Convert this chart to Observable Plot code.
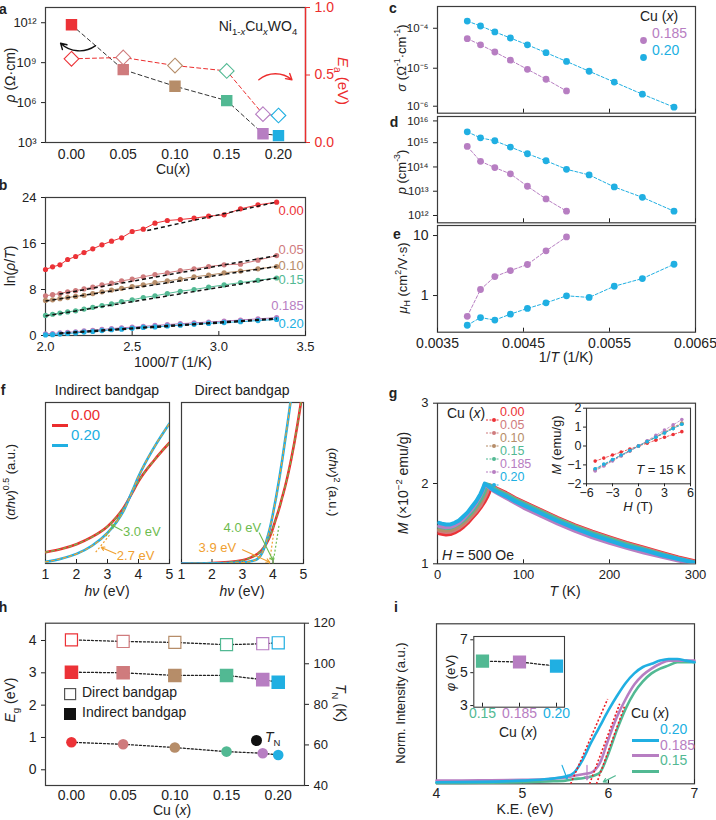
<!DOCTYPE html>
<html><head><meta charset="utf-8">
<script src="https://cdn.jsdelivr.net/npm/d3@7"></script>
<script src="https://cdn.jsdelivr.net/npm/@observablehq/plot@0.6"></script>
<style>
html,body{margin:0;padding:0;background:#fff;}
#chart{position:relative;width:716px;height:820px;overflow:hidden;font-family:"Liberation Sans",Arial,Helvetica,sans-serif;color:#222;}
#chart sub,#chart sup{font-size:68%;line-height:0;}
.lbl{position:absolute;white-space:nowrap;line-height:1;}
</style></head><body><div id="chart"></div><script>
// ================= DATA =================
const cuLabels = ["0.00","0.05","0.10","0.15","0.185","0.20"];
const cuValues = [0, 0.05, 0.10, 0.15, 0.185, 0.20];
const cuColors = ["#ec3237","#cf7b7d","#b68d69","#52b993","#b77ec2","#20afe2"];
const RED = "#ec2d2d";

// (a) resistivity and activation energy
const aRho = [7e11, 3e8, 1.7e7, 1.4e6, 4.6e3, 3.3e3];
const aEa = [0.62, 0.63, 0.57, 0.53, 0.21, 0.20];
const aXDomain = [-0.0251, 0.2261];
const aXTicks = [0, 0.05, 0.10, 0.15, 0.20];
const aRhoTicks = [1e3, 1e6, 1e9, 1e12];
const aEaTicks = [0, 0.5, 1.0];
const aArrowRho = [{x1: 0.0233, y1: 1.9e10, x2: -0.0105, y2: 2.9e10}];
const aArrowEa = [{x1: 0.181, y1: 0.465, x2: 0.213, y2: 0.465}];

// (b) ln(rho/T) vs 1000/T
const bT = [500,490,480,470,460,450,440,430,420,410,400,390,380,370,360,350,340,330,320,310,300];
const bLn000 = [11.48,11.94,12.29,13.22,13.74,14.43,15.07,15.77,16.40,16.99,18.09,18.49,19.54,20.00,20.17,20.41,20.75,20.99,22.03,22.72,23.19];
const bLn005 = [6.9,7.1,7.3,7.6,7.8,8.1,8.4,8.8,9.1,9.5,9.8,10.2,10.6,10.9,11.3,11.6,12.0,12.3,12.4,13.1,13.9];
const bLn010 = [6.1,6.2,6.4,6.6,6.8,7.0,7.3,7.6,7.9,8.2,8.5,8.8,9.2,9.5,9.8,10.2,10.5,10.9,11.2,11.6,12.0];
const bLn015 = [3.5,3.7,3.9,4.1,4.3,4.6,4.9,5.2,5.5,5.9,6.2,6.6,6.9,7.3,7.7,8.0,8.4,8.8,9.2,9.6,10.0];
const bLn0185 = [0.3,0.35,0.45,0.55,0.65,0.8,0.9,1.05,1.2,1.35,1.45,1.6,1.75,1.9,2.05,2.2,2.35,2.5,2.7,2.9,3.1];
const bLn020 = [0.1,0.15,0.25,0.35,0.45,0.6,0.7,0.85,1.0,1.1,1.25,1.4,1.5,1.65,1.8,1.95,2.1,2.25,2.4,2.6,2.8];
const bFitX1 = [2.587, 2.08, 2.0, 2.0, 2.08, 2.08];
const bFitY1 = [18.26, 7.2, 6.0, 3.4, 0.45, 0.3];
const bFitX2 = [3.333, 3.333, 3.333, 3.333, 3.333, 3.333];
const bFitY2 = [23.2, 13.9, 12.0, 10.0, 3.0, 2.85];
const bLabelY = [21.7, 14.9, 12.2, 9.7, 5.2, 2.0];
const bXTicks = [2.0, 2.5, 3.0, 3.5];
const bYTicks = [0, 8, 16, 24];

// (c,d,e) Hall data vs 1/T
const hallT = [260,250,240,230,220,210,200,190,180,170,160];
const sigma020 = [1.51e-4,1.14e-4,8.1e-5,5.7e-5,3.85e-5,2.45e-5,1.48e-5,8.4e-6,4.5e-6,2.24e-6,1.06e-6];
const sigma0185 = [5.5e-5,3.85e-5,2.55e-5,1.59e-5,9.4e-6,5.3e-6,2.7e-6];
const p020 = [2.8e15,1.58e15,1.2e15,6.6e14,3.5e14,1.8e14,8e13,4.7e13,1.5e13,5.6e12,1.5e12];
const p0185 = [7e14,1.7e14,9.4e13,5.2e13,1.6e13,4.8e12,1.5e12];
const mu020 = [0.32,0.43,0.39,0.49,0.61,0.755,0.99,0.93,1.43,1.92,3.32];
const mu0185 = [0.45,1.26,2.07,2.61,3.29,5.56,9.5];
const cdeXTicks = [0.0035, 0.0045, 0.0055, 0.0065];

// (f) Tauc plots
const fIndHv = [1.0,1.5,2.0,2.5,3.0,3.3,3.5,3.8,4.0,4.5,5.0];
const fIndRed = [0.07,0.09,0.12,0.165,0.23,0.29,0.34,0.44,0.51,0.64,0.75];
const fIndBlue = [0.01,0.03,0.06,0.11,0.19,0.26,0.32,0.45,0.54,0.72,0.87];
const fDirHv = [1.0,2.0,3.0,3.3,3.5,3.7,3.8,3.9,4.0,4.1,4.2,4.3,4.4,4.5,4.6,4.7,4.8,4.9,5.0];
const fDirRed = [0.0,0.003,0.02,0.04,0.06,0.10,0.13,0.17,0.22,0.28,0.34,0.41,0.48,0.56,0.65,0.75,0.86,0.98,1.1];
const fDirBlue = [0.0,0.001,0.006,0.015,0.03,0.09,0.15,0.22,0.31,0.41,0.52,0.64,0.77,0.9,1.04,1.18,1.3,1.4,1.5];
const fIndTangents = [
  {x1: 2.95, y1: 0.17, x2: 3.45, y2: 0.31, c: "#6dbb4f"},
  {x1: 2.62, y1: 0.07, x2: 3.08, y2: 0.18, c: "#f0a030"}];
const fDirTangents = [
  {x1: 4.0, y1: 0.0, x2: 4.2, y2: 0.24, c: "#6dbb4f"},
  {x1: 3.88, y1: 0.0, x2: 4.03, y2: 0.2, c: "#f0a030"}];
const fIndNotes = [
  {x: 3.5, y: 0.195, t: "3.0 eV", c: "#6dbb4f", ax1: 3.47, ay1: 0.205, ax2: 3.12, ay2: 0.24},
  {x: 3.3, y: 0.05, t: "2.7 eV", c: "#f0a030", ax1: 3.27, ay1: 0.06, ax2: 2.8, ay2: 0.1}];
const fDirNotes = [
  {x: 2.38, y: 0.22, t: "4.0 eV", c: "#6dbb4f", ax1: 3.55, ay1: 0.19, ax2: 4.0, ay2: 0.02},
  {x: 1.56, y: 0.10, t: "3.9 eV", c: "#f0a030", ax1: 3.0, ay1: 0.085, ax2: 3.88, ay2: 0.01}];

// (g) M vs T, and M vs H inset
const gT = [2,5,10,15,20,25,30,35,40,45,50,52.5,55,57.5,60,62.5,65,70,80,90,100,120,140,160,180,200,220,240,260,280,300];
const gM000 = [1.38,1.375,1.365,1.37,1.39,1.42,1.46,1.51,1.57,1.63,1.70,1.74,1.78,1.83,1.89,1.97,1.96,1.93,1.88,1.82,1.77,1.67,1.57,1.48,1.40,1.33,1.26,1.20,1.14,1.08,1.03];
const gM005 = [1.41,1.405,1.395,1.40,1.42,1.45,1.49,1.54,1.60,1.66,1.73,1.78,1.83,1.89,1.98,1.97,1.95,1.92,1.87,1.81,1.76,1.66,1.56,1.47,1.39,1.32,1.25,1.19,1.13,1.07,1.02];
const gM010 = [1.43,1.425,1.415,1.42,1.44,1.47,1.51,1.56,1.62,1.69,1.77,1.82,1.88,1.98,1.97,1.95,1.94,1.91,1.86,1.80,1.75,1.65,1.55,1.46,1.38,1.31,1.24,1.18,1.12,1.06,1.01];
const gM015 = [1.46,1.455,1.445,1.45,1.47,1.50,1.54,1.59,1.65,1.72,1.80,1.85,1.91,1.99,1.98,1.96,1.94,1.91,1.86,1.80,1.75,1.65,1.55,1.46,1.38,1.31,1.24,1.18,1.12,1.06,1.01];
const gM0185 = [1.47,1.465,1.455,1.46,1.48,1.51,1.56,1.62,1.68,1.76,1.85,1.91,1.99,1.97,1.95,1.93,1.91,1.88,1.82,1.76,1.70,1.60,1.50,1.41,1.33,1.26,1.20,1.14,1.09,1.04,1.00];
const gM020 = [1.51,1.50,1.49,1.49,1.51,1.54,1.59,1.64,1.71,1.78,1.87,1.93,2.00,1.98,1.96,1.94,1.92,1.89,1.84,1.78,1.73,1.63,1.53,1.44,1.36,1.29,1.22,1.17,1.11,1.06,1.01];
const gH = [-5,-4,-3,-2,-1,0,1,2,3,4,5];
const gMH000 = [-0.80,-0.64,-0.48,-0.32,-0.16,0.0,0.15,0.31,0.46,0.61,0.76];
const gMH005 = [-1.25,-1.0,-0.75,-0.5,-0.25,0.0,0.24,0.48,0.72,0.96,1.2];
const gMH010 = [-1.28,-1.03,-0.77,-0.51,-0.26,0.0,0.25,0.49,0.74,0.98,1.22];
const gMH015 = [-1.22,-0.98,-0.73,-0.49,-0.24,0.0,0.23,0.46,0.69,0.92,1.15];
const gMH0185 = [-1.32,-1.06,-0.79,-0.53,-0.27,0.0,0.28,0.56,0.84,1.12,1.40];
const gMH020 = [-1.2,-0.96,-0.72,-0.48,-0.24,0.0,0.23,0.46,0.69,0.92,1.15];

// (h) band gaps and Neel temperature
const hDirect = [4.02, 3.97, 3.94, 3.87, 3.90, 3.93];
const hIndirect = [3.02, 3.00, 2.92, 2.92, 2.79, 2.71];
const hTN = [61.3, 60.3, 58.7, 56.7, 55.9, 55.0];

// (i) secondary-electron cutoff
const iKE = [4.0,4.5,5.0,5.3,5.5,5.6,5.7,5.8,5.85,5.9,6.0,6.1,6.2,6.3,6.4,6.5,6.6,6.7,6.8,6.9,7.0];
const iBlue = [0.01,0.012,0.02,0.03,0.045,0.07,0.15,0.26,0.31,0.36,0.46,0.55,0.63,0.69,0.73,0.75,0.77,0.78,0.78,0.77,0.76];
const iPurple = [0.02,0.022,0.025,0.03,0.04,0.05,0.06,0.07,0.09,0.13,0.28,0.42,0.53,0.62,0.68,0.72,0.75,0.77,0.77,0.77,0.77];
const iGreen = [0.005,0.007,0.01,0.015,0.02,0.03,0.035,0.045,0.055,0.07,0.19,0.34,0.47,0.57,0.64,0.69,0.72,0.74,0.76,0.76,0.76];
const iFits = [{x1:5.56,y1:0,x2:5.99,y2:0.53},{x1:5.78,y1:0,x2:6.13,y2:0.5},{x1:5.86,y1:0,x2:6.19,y2:0.49}];
const iArrows = [
  {x1:5.46,y1:0.115,x2:5.52,y2:0.03,c:"#20afe2"},
  {x1:5.75,y1:0.115,x2:5.75,y2:0.025,c:"#b77ec2"},
  {x1:6.08,y1:0.05,x2:5.94,y2:0.012,c:"#52b993"}];
const iCats = ["0.15","0.185","0.20"];
const iPhi = [5.7, 5.65, 5.4];
const iCatColors = ["#52b993","#b77ec2","#20afe2"];

// ================= HELPERS =================
const FONT = '"Liberation Sans", Arial, Helvetica, sans-serif';
const FR = "#3c3c3c";
const root = document.getElementById("chart");
const SUPS = {"-":"⁻","0":"⁰","1":"¹","2":"²","3":"³","4":"⁴","5":"⁵","6":"⁶","7":"⁷","8":"⁸","9":"⁹"};
const sup = v => "10" + String(Math.round(Math.log10(v))).replace(/[-0-9]/g, ch => SUPS[ch]);
const INT = d3.format("d");
function base(o, fs = 12) {
  return Object.assign({style: {fontFamily: FONT, fontSize: fs + "px", color: "#222", background: "transparent", overflow: "visible"}}, o);
}
function put(svg, left, top) {
  svg.style.position = "absolute"; svg.style.left = left + "px"; svg.style.top = top + "px";
  root.appendChild(svg);
}
function lbl(html, x, y, o = {}) {
  const {size = 14, color = "#222", rot = 0, align = "middle", weight = "normal"} = o;
  const d = document.createElement("div");
  d.className = "lbl"; d.innerHTML = html;
  d.style.left = x + "px"; d.style.top = y + "px"; d.style.fontSize = size + "px";
  d.style.color = color; d.style.fontWeight = weight;
  const tx = align === "middle" ? "-50%" : align === "end" ? "-100%" : "0%";
  d.style.transform = `translate(${tx},-50%) rotate(${rot}deg)`;
  root.appendChild(d);
}
function icon(inner, x, y, w, h) {
  const d = document.createElement("div");
  d.style.cssText = `position:absolute;left:${x}px;top:${y}px;width:${w}px;height:${h}px;`;
  d.innerHTML = `<svg width="${w}" height="${h}" style="overflow:visible">${inner}</svg>`;
  root.appendChild(d);
}
const frame = () => Plot.frame({stroke: FR, strokeWidth: 1.2});
const tickIn = (axis, ticks, anchor) => (axis === "x" ? Plot.axisX : Plot.axisY)({ticks, anchor, tickSize: -4, tickFormat: () => "", label: null});

// ================= PANEL a =================
const aRows = cuValues.map((x, i) => ({x, rho: aRho[i], ea: aEa[i], c: cuColors[i]}));
put(Plot.plot(base({
  width: 360, height: 180, marginLeft: 45, marginRight: 55, marginTop: 7, marginBottom: 38,
  x: {domain: aXDomain, axis: null}, y: {type: "log", domain: [1e3, 1.4e13], axis: null},
  marks: [
    frame(),
    Plot.axisX({ticks: aXTicks, tickFormat: ".2f", tickSize: 0, tickPadding: 7, label: null, fontSize: 14}),
    Plot.axisY({ticks: aRhoTicks, tickFormat: sup, tickSize: 4, label: null, fontSize: 13}),
    Plot.line(aRows, {x: "x", y: "rho", stroke: "#333", strokeDasharray: "4,3", strokeWidth: 1}),
    Plot.dot(aRows, {x: "x", y: "rho", symbol: "square", r: 5.6, fill: "c", stroke: "c"}),
    Plot.arrow(aArrowRho, {x1: "x1", y1: "y1", x2: "x2", y2: "y2", bend: 40, stroke: "#111", strokeWidth: 1.4, headLength: 7})
  ]
})), 0, 0);
put(Plot.plot(base({
  width: 360, height: 180, marginLeft: 45, marginRight: 55, marginTop: 7, marginBottom: 38,
  x: {domain: aXDomain, axis: null}, y: {domain: [0, 1], axis: null},
  marks: [
    Plot.ruleX([aXDomain[1]], {stroke: RED, strokeWidth: 1.4}),
    Plot.axisY({anchor: "right", ticks: aEaTicks, tickFormat: ".1f", tickSize: 4, color: RED, label: null, fontSize: 14}),
    Plot.line(aRows, {x: "x", y: "ea", stroke: RED, strokeDasharray: "4,3", strokeWidth: 1}),
    Plot.dot(aRows, {x: "x", y: "ea", symbol: "diamond2", r: 6.6, fill: "white", stroke: "c", strokeWidth: 1.1}),
    Plot.arrow(aArrowEa, {x1: "x1", y1: "y1", x2: "x2", y2: "y2", bend: 40, stroke: RED, strokeWidth: 1.4, headLength: 7})
  ]
})), 0, 0);
lbl("a", 3, 9, {weight: "bold"});
lbl("<i>ρ</i> (Ω·cm)", 10, 75, {rot: -90});
lbl("<i>E</i><sub>a</sub> (eV)", 343, 81, {rot: 90, color: RED, size: 15});
lbl("Cu(<i>x</i>)", 173, 169);
lbl("Ni<sub>1-<i>x</i></sub>Cu<sub><i>x</i></sub>WO<sub>4</sub>", 258, 26);

// ================= PANEL b =================
const bSeries = [bLn000, bLn005, bLn010, bLn015, bLn0185, bLn020];
const bRows = bSeries.flatMap((arr, s) => arr.map((v, i) => ({x: 1000 / bT[i], y: v, s, c: cuColors[s]})));
const bFits = cuLabels.map((l, s) => ({x1: bFitX1[s], y1: bFitY1[s], x2: bFitX2[s], y2: bFitY2[s]}));
const bLabels = cuLabels.map((l, s) => ({t: l, y: bLabelY[s], c: cuColors[s]}));
put(Plot.plot(base({
  width: 360, height: 200, marginLeft: 45, marginRight: 55, marginTop: 17, marginBottom: 45,
  x: {domain: [2.0, 3.5], axis: null}, y: {domain: [0, 24], axis: null},
  marks: [
    frame(),
    tickIn("x", bXTicks, "bottom"),
    Plot.axisX({ticks: bXTicks, tickFormat: ".1f", tickSize: 0, tickPadding: 6, label: null, fontSize: 13}),
    Plot.axisY({ticks: bYTicks, tickFormat: INT, tickSize: 4, label: null, fontSize: 13}),
    Plot.line(bRows, {x: "x", y: "y", z: "s", stroke: "c", strokeWidth: 1}),
    Plot.dot(bRows, {x: "x", y: "y", r: 2.6, fill: "c"}),
    Plot.link(bFits, {x1: "x1", y1: "y1", x2: "x2", y2: "y2", stroke: "#111", strokeDasharray: "4,3", strokeWidth: 1.5}),
    Plot.text(bLabels, {x: 3.49, y: "y", text: "t", fill: "c", textAnchor: "end", fontSize: 13})
  ]
})), 0, 180);
lbl("b", 3, 185, {weight: "bold"});
lbl("ln(<i>ρ</i>/<i>T</i>)", 10, 266, {rot: -90});
lbl("1000/<i>T</i> (1/K)", 173, 362);

// ================= PANELS c, d, e =================
const blueRows = (vals) => vals.map((v, i) => ({x: 1 / hallT[i], y: v}));
const cdeMarks = (b, p) => [
  Plot.line(blueRows(p), {x: "x", y: "y", stroke: "#b77ec2", strokeDasharray: "3,2", strokeWidth: 1}),
  Plot.dot(blueRows(p), {x: "x", y: "y", r: 3.4, fill: "#b77ec2"}),
  Plot.line(blueRows(b), {x: "x", y: "y", stroke: "#20afe2", strokeDasharray: "3,2", strokeWidth: 1}),
  Plot.dot(blueRows(b), {x: "x", y: "y", r: 3.4, fill: "#20afe2"})
];
put(Plot.plot(base({
  width: 356, height: 118, marginLeft: 77, marginRight: 21, marginTop: 6, marginBottom: 5.3,
  x: {domain: [0.0035, 0.0065], axis: null}, y: {type: "log", domain: [7.5e-7, 3.5e-4], axis: null},
  marks: [frame(), tickIn("x", cdeXTicks, "bottom"),
    Plot.axisY({ticks: [1e-5, 1e-4], tickFormat: sup, tickSize: 4, label: null, fontSize: 11.5}),
    Plot.axisY({ticks: [1e-6], tickFormat: sup, tickSize: 4, label: null, fontSize: 11.5, dy: -2}),
    ...cdeMarks(sigma020, sigma0185)]
}), 13), 360, 0);
put(Plot.plot(base({
  width: 356, height: 114, marginLeft: 77, marginRight: 21, marginTop: 4, marginBottom: 3.7,
  x: {domain: [0.0035, 0.0065], axis: null}, y: {type: "log", domain: [5e11, 1.2e16], axis: null},
  marks: [frame(), tickIn("x", cdeXTicks, "bottom"),
    Plot.axisY({ticks: [1e12, 1e13, 1e14, 1e15], tickFormat: sup, tickSize: 4, label: null, fontSize: 11.5}),
    Plot.axisY({ticks: [1e16], tickFormat: sup, tickSize: 4, label: null, fontSize: 11.5, dy: 2.5}),
    ...cdeMarks(p020, p0185)]
}), 13), 360, 112);
put(Plot.plot(base({
  width: 356, height: 150, marginLeft: 77, marginRight: 21, marginTop: 5, marginBottom: 38.3,
  x: {domain: [0.0035, 0.0065], axis: null}, y: {type: "log", domain: [0.245, 14.7], axis: null},
  marks: [frame(), tickIn("x", cdeXTicks, "bottom"),
    Plot.axisX({ticks: cdeXTicks, tickFormat: ".4f", tickSize: 0, tickPadding: 6, label: null, fontSize: 14}),
    Plot.axisY({ticks: [1, 10], tickFormat: d => String(d), tickSize: 4, label: null, fontSize: 14}),
    ...cdeMarks(mu020, mu0185)]
}), 13), 360, 220);
lbl("c", 393, 8, {weight: "bold"});
lbl("d", 394, 122, {weight: "bold"});
lbl("e", 397, 234, {weight: "bold"});
lbl("<i>σ</i> (Ω<sup>-1</sup>·cm<sup>-1</sup>)", 401, 58, {rot: -90, size: 13});
lbl("<i>p</i> (cm<sup>-3</sup>)", 401, 172, {rot: -90, size: 13});
lbl("<i>μ</i><sub>H</sub> (cm<sup>2</sup>/V·s)", 402, 278, {rot: -90, size: 13});
lbl("1/<i>T</i> (1/K)", 566, 357);
lbl("Cu (<i>x</i>)", 640, 16, {align: "start"});
icon(`<circle cx="3.5" cy="3.5" r="3.4" fill="#b77ec2"/>`, 640, 29.5, 7, 7);
icon(`<circle cx="3.5" cy="3.5" r="3.4" fill="#20afe2"/>`, 640, 46.5, 7, 7);
lbl("0.185", 652, 33, {align: "start", color: "#b77ec2"});
lbl("0.20", 652, 50, {align: "start", color: "#20afe2"});

// ================= PANEL f =================
const fIndRows = [
  ...fIndHv.map((h, i) => ({x: h, y: fIndRed[i], s: "0.00"})),
  ...fIndHv.map((h, i) => ({x: h, y: fIndBlue[i], s: "0.20"}))];
const fDirRows = [
  ...fDirHv.map((h, i) => ({x: h, y: fDirRed[i], s: "0.00"})),
  ...fDirHv.map((h, i) => ({x: h, y: fDirBlue[i], s: "0.20"}))];
const fMarks = (rows, tangents, notes) => [
  frame(), tickIn("x", [1, 2, 3, 4, 5], "bottom"),
  Plot.axisX({ticks: [1, 2, 3, 4, 5], tickFormat: INT, tickSize: 0, tickPadding: 6, label: null, fontSize: 14}),
  Plot.line(rows.filter(d => d.s === "0.00"), {x: "x", y: "y", stroke: RED, strokeWidth: 2.6, curve: "monotone-x", clip: true}),
  Plot.line(rows.filter(d => d.s === "0.00"), {x: "x", y: "y", stroke: "#6dbb4f", strokeWidth: 1.2, strokeDasharray: "3,3", curve: "monotone-x", clip: true}),
  Plot.line(rows.filter(d => d.s === "0.20"), {x: "x", y: "y", stroke: "#20afe2", strokeWidth: 2.6, curve: "monotone-x", clip: true}),
  Plot.line(rows.filter(d => d.s === "0.20"), {x: "x", y: "y", stroke: "#f0a030", strokeWidth: 1.2, strokeDasharray: "3,3", curve: "monotone-x", clip: true}),
  Plot.link(tangents, {x1: "x1", y1: "y1", x2: "x2", y2: "y2", stroke: "c", strokeWidth: 1.2, strokeDasharray: "2,2"}),
  Plot.arrow(notes, {x1: "ax1", y1: "ay1", x2: "ax2", y2: "ay2", stroke: "c", strokeWidth: 1.1, headLength: 5}),
  Plot.text(notes, {x: "x", y: "y", text: "t", fill: "c", textAnchor: "start", fontSize: 13})
];
put(Plot.plot(base({
  width: 175, height: 215, marginLeft: 45, marginRight: 6, marginTop: 22, marginBottom: 32,
  x: {domain: [1, 5], axis: null}, y: {domain: [0, 1], axis: null},
  marks: fMarks(fIndRows, fIndTangents, fIndNotes)
})), 0, 380);
put(Plot.plot(base({
  width: 140, height: 215, marginLeft: 6, marginRight: 12, marginTop: 22, marginBottom: 32,
  x: {domain: [1, 5], axis: null}, y: {domain: [0, 1], axis: null},
  marks: fMarks(fDirRows, fDirTangents, fDirNotes)
})), 175, 380);
lbl("f", 3, 390, {weight: "bold"});
lbl("Indirect bandgap", 107, 390);
lbl("Direct bandgap", 242, 390);
lbl("(<i>αhν</i>)<sup>0.5</sup> (a.u.)", 10, 482, {rot: -90, size: 13});
lbl("(<i>αhν</i>)<sup>2</sup> (a.u.)", 333, 482, {rot: 90, size: 13});
lbl("<i>hν</i> (eV)", 107, 591);
lbl("<i>hν</i> (eV)", 242, 591);
icon(`<line x1="0" y1="1.5" x2="16" y2="1.5" stroke="${RED}" stroke-width="3"/>`, 52, 412.5, 16, 3);
icon(`<line x1="0" y1="1.5" x2="16" y2="1.5" stroke="#20afe2" stroke-width="3"/>`, 52, 432.5, 16, 3);
lbl("0.00", 71, 414, {align: "start", color: RED, size: 15});
lbl("0.20", 71, 434, {align: "start", color: "#20afe2", size: 15});

// ================= PANEL g =================
const gSeries = [gM000, gM005, gM010, gM015, gM0185, gM020];
const gRows = gSeries.flatMap((arr, s) => arr.map((v, i) => ({x: gT[i], y: v, s, c: cuColors[s]})));
put(Plot.plot(base({
  width: 356, height: 220, marginLeft: 77, marginRight: 21, marginTop: 22.7, marginBottom: 36.7,
  x: {domain: [0, 300], axis: null}, y: {domain: [1, 3], axis: null},
  marks: [
    frame(), tickIn("x", [0, 100, 200, 300], "bottom"),
    Plot.axisX({ticks: [0, 100, 200, 300], tickFormat: INT, tickSize: 0, tickPadding: 6, label: null, fontSize: 13}),
    Plot.axisY({ticks: [1, 2, 3], tickFormat: INT, tickSize: 4, label: null, fontSize: 13}),
    Plot.line(gRows, {x: "x", y: "y", z: "s", stroke: "c", strokeWidth: 4, clip: true})
  ]
})), 360, 380);
const gHRows = [gMH000, gMH005, gMH010, gMH015, gMH0185, gMH020].flatMap((arr, s) => arr.map((v, i) => ({x: gH[i], y: v, s, c: cuColors[s]})));
put(Plot.plot(base({
  width: 160, height: 115, marginLeft: 46, marginRight: 10, marginTop: 12.7, marginBottom: 26.7,
  x: {domain: [-6, 6], axis: null}, y: {domain: [-2, 2], axis: null},
  marks: [
    Plot.frame({fill: "white", stroke: FR, strokeWidth: 1.1}),
    Plot.axisX({ticks: [-6, -3, 0, 3, 6], tickFormat: INT, tickSize: 3, tickPadding: 1, label: null, fontSize: 12.5}),
    Plot.axisY({ticks: [-2, -1, 0, 1, 2], tickFormat: INT, tickSize: 3, tickPadding: 2, label: null, fontSize: 12.5}),
    Plot.line(gHRows, {x: "x", y: "y", z: "s", stroke: "c", strokeWidth: 0.8, strokeDasharray: "2,2"}),
    Plot.dot(gHRows, {x: "x", y: "y", r: 1.8, fill: "c"})
  ]
})), 540, 395);
lbl("g", 393, 393, {weight: "bold"});
lbl("<i>M</i> (×10<sup>−2</sup> emu/g)", 403, 483, {rot: -90});
lbl("<i>T</i> (K)", 565, 591);
lbl("Cu (<i>x</i>)", 447, 413, {align: "start"});
const gLegY = [411.7, 424.5, 437.5, 450.5, 463.5, 476.7];
cuLabels.forEach((l, s) => {
  icon(`<line x1="0" y1="3" x2="14" y2="3" stroke="${cuColors[s]}" stroke-width="1.2" stroke-dasharray="2,1.5"/><circle cx="8" cy="3" r="2" fill="${cuColors[s]}"/>`, 486, gLegY[s] - 3, 14, 6);
  lbl(l, 500, gLegY[s], {align: "start", color: cuColors[s], size: 12.5});
});
lbl("<i>H</i> = 500 Oe", 442, 555, {align: "start"});
lbl("<i>M</i> (emu/g)", 556, 445, {rot: -90, size: 13});
lbl("<i>H</i> (T)", 638, 506, {size: 13});
lbl("<i>T</i> = 15 K", 661, 469, {size: 13});

// ================= PANEL h =================
const hRows = cuValues.map((x, i) => ({x, d: hDirect[i], ind: hIndirect[i], tn: hTN[i], c: cuColors[i]}));
put(Plot.plot(base({
  width: 360, height: 220, marginLeft: 45, marginRight: 56, marginTop: 22.7, marginBottom: 35,
  x: {domain: [-0.0251, 0.2254], axis: null}, y: {domain: [-0.486, 4.535], axis: null},
  marks: [
    frame(),
    Plot.axisX({ticks: aXTicks, tickFormat: ".2f", tickSize: 0, tickPadding: 5, label: null, fontSize: 14}),
    Plot.axisY({ticks: [0, 1, 2, 3, 4], tickFormat: INT, tickSize: 4, label: null, fontSize: 14}),
    Plot.line(hRows, {x: "x", y: "d", stroke: "#222", strokeDasharray: "2,2", strokeWidth: 1.3}),
    Plot.line(hRows, {x: "x", y: "ind", stroke: "#222", strokeDasharray: "2,2", strokeWidth: 1.3}),
    Plot.dot(hRows, {x: "x", y: "d", symbol: "square", r: 6.8, fill: "white", stroke: "c", strokeWidth: 1.2}),
    Plot.dot(hRows, {x: "x", y: "ind", symbol: "square", r: 6.8, fill: "c", stroke: "c"})
  ]
})), 0, 600);
put(Plot.plot(base({
  width: 360, height: 220, marginLeft: 45, marginRight: 56, marginTop: 22.7, marginBottom: 35,
  x: {domain: [-0.0251, 0.2254], axis: null}, y: {domain: [40, 120], axis: null},
  marks: [
    Plot.axisY({anchor: "right", ticks: [40, 60, 80, 100, 120], tickFormat: INT, tickSize: 4, label: null, fontSize: 13}),
    Plot.line(hRows, {x: "x", y: "tn", stroke: "#222", strokeDasharray: "2,2", strokeWidth: 1.3}),
    Plot.dot(hRows, {x: "x", y: "tn", r: 5.3, fill: "c"})
  ]
})), 0, 600);
lbl("h", 3, 607, {weight: "bold"});
lbl("<i>E</i><sub>g</sub> (eV)", 10, 700, {rot: -90});
lbl("<i>T</i><sub>N</sub> (K)", 341, 703, {rot: 90});
lbl("Cu (<i>x</i>)", 172, 810);
icon(`<rect x="0.6" y="0.6" width="11" height="11" fill="white" stroke="#555" stroke-width="1.2"/>`, 64, 686, 12, 12);
icon(`<rect x="0" y="0" width="12" height="12" fill="#111"/>`, 64, 706, 12, 12);
lbl("Direct bandgap", 82, 692, {align: "start"});
lbl("Indirect bandgap", 82, 712, {align: "start"});
icon(`<circle cx="5.5" cy="5.5" r="5.5" fill="#111"/>`, 251, 732, 11, 11);
lbl("<i>T</i><sub>N</sub>", 265, 737, {align: "start"});

// ================= PANEL i =================
const iRows = [
  ...iKE.map((k, i) => ({x: k, y: iGreen[i], s: "0.15", c: "#52b993"})),
  ...iKE.map((k, i) => ({x: k, y: iPurple[i], s: "0.185", c: "#b77ec2"})),
  ...iKE.map((k, i) => ({x: k, y: iBlue[i], s: "0.20", c: "#20afe2"}))];
put(Plot.plot(base({
  width: 356, height: 220, marginLeft: 76, marginRight: 22, marginTop: 23.3, marginBottom: 36.7,
  x: {domain: [4, 7], axis: null}, y: {domain: [0, 1], axis: null},
  marks: [
    frame(), tickIn("x", [4, 5, 6, 7], "bottom"),
    Plot.axisX({ticks: [4, 5, 6, 7], tickFormat: INT, tickSize: 0, tickPadding: 4, label: null, fontSize: 14}),
    Plot.line(iRows, {x: "x", y: "y", z: "s", stroke: "c", strokeWidth: 2.6, curve: "monotone-x"}),
    Plot.link(iFits, {x1: "x1", y1: "y1", x2: "x2", y2: "y2", stroke: "#ec1c24", strokeWidth: 1.6, strokeDasharray: "2,2"}),
    Plot.arrow(iArrows, {x1: "x1", y1: "y1", x2: "x2", y2: "y2", stroke: "c", strokeWidth: 1.2, headLength: 5})
  ]
})), 360, 600);
const iInRows = iCats.map((c, i) => ({x: c, y: iPhi[i], c: iCatColors[i]}));
put(Plot.plot(base({
  width: 140, height: 120, marginLeft: 43.3, marginRight: 6, marginTop: 11, marginBottom: 38.3,
  x: {type: "point", domain: iCats, padding: 0.2, axis: null}, y: {domain: [2.9, 7.2], axis: null},
  marks: [
    Plot.frame({fill: "white", stroke: FR, strokeWidth: 1.1}),
    Plot.axisY({ticks: [3, 5, 7], tickFormat: INT, tickSize: 3, tickPadding: 3, label: null, fontSize: 14}),
    tickIn("x", iCats, "bottom"),
    Plot.text(iInRows, {x: "x", text: "x", fill: "c", frameAnchor: "bottom", dy: 11, fontSize: 14}),
    Plot.line(iInRows, {x: "x", y: "y", stroke: "#222", strokeDasharray: "2,2", strokeWidth: 1.3}),
    Plot.dot(iInRows, {x: "x", y: "y", symbol: "square", r: 6.6, fill: "c", stroke: "c"})
  ]
})), 430, 625);
lbl("i", 396, 607, {weight: "bold"});
lbl("Norm. Intensity (a.u.)", 400, 703, {rot: -90, size: 13});
lbl("K.E. (eV)", 525, 809);
lbl("<i>φ</i> (eV)", 450, 673, {rot: -90, size: 13});
lbl("Cu (<i>x</i>)", 518, 732, {size: 14});
lbl("Cu (<i>x</i>)", 650, 713);
[["0.20", "#20afe2", 729], ["0.185", "#b77ec2", 744.5], ["0.15", "#52b993", 760]].forEach(([t, c, y]) => {
  icon(`<line x1="0" y1="1.5" x2="27" y2="1.5" stroke="${c}" stroke-width="3"/>`, 632, y - 1.5, 27, 3);
  lbl(t, 660, y, {align: "start", color: c});
});
</script></body></html>
